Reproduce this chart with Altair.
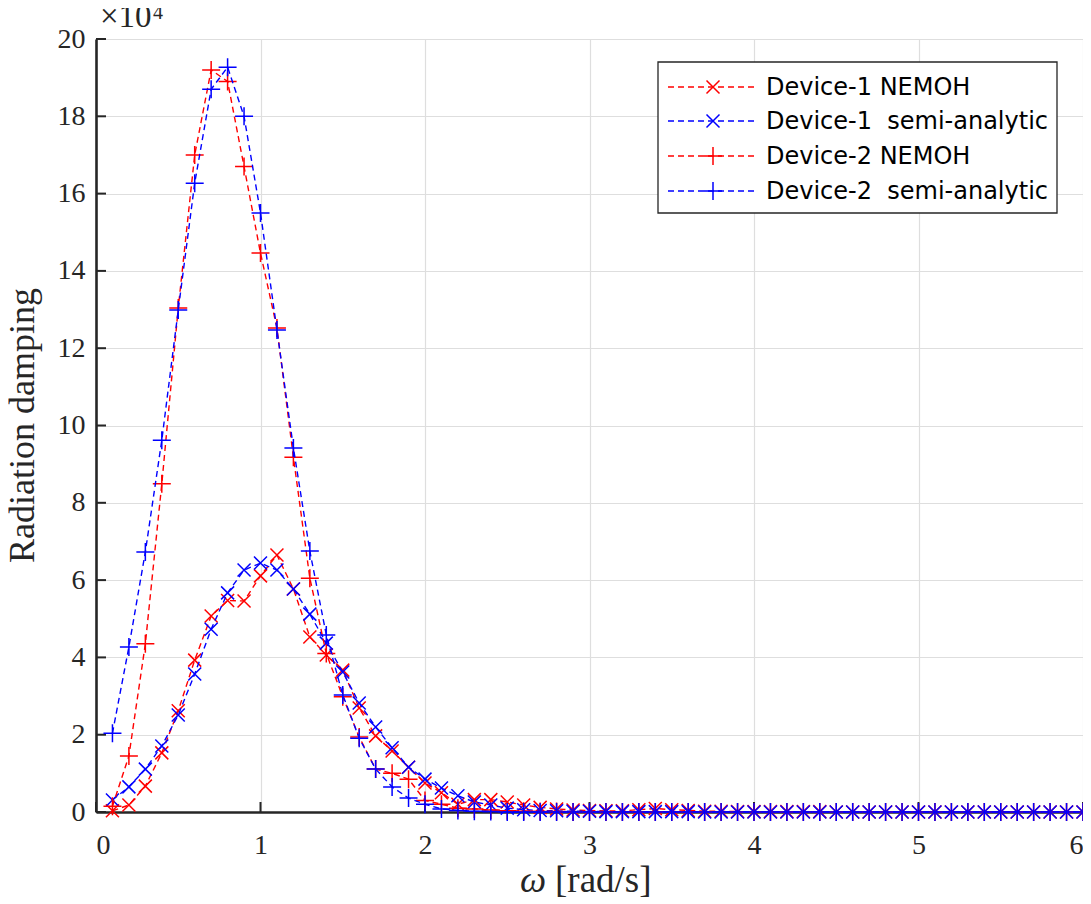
import altair as alt
import pandas as pd

# angular frequency grid [rad/s]
omega = [0.1, 0.2, 0.3, 0.4, 0.5, 0.6, 0.7, 0.8, 0.9, 1.0,
         1.1, 1.2, 1.3, 1.4, 1.5, 1.6, 1.7, 1.8, 1.9, 2.0,
         2.1, 2.2, 2.3, 2.4, 2.5, 2.6, 2.7, 2.8, 2.9, 3.0,
         3.1, 3.2, 3.3, 3.4, 3.5, 3.6, 3.7, 3.8, 3.9, 4.0,
         4.1, 4.2, 4.3, 4.4, 4.5, 4.6, 4.7, 4.8, 4.9, 5.0,
         5.1, 5.2, 5.3, 5.4, 5.5, 5.6, 5.7, 5.8, 5.9, 6.0]

# radiation damping, in units of 1e4
d1_nemoh = [0.03, 0.18, 0.67, 1.53, 2.62, 3.93, 5.07, 5.47, 5.46, 6.11,
            6.65, 5.77, 4.53, 4.06, 3.67, 2.69, 1.97, 1.58, 1.16, 0.75,
            0.50, 0.20, 0.32, 0.32, 0.26, 0.18, 0.12, 0.08, 0.05, 0.04,
            0.03, 0.03, 0.06, 0.09, 0.06, 0.04, 0.02, 0.02, 0.01, 0.01,
            0.01, 0.01, 0.01, 0.01, 0.00, 0.00, 0.00, 0.00, 0.00, 0.00,
            0.00, 0.00, 0.00, 0.00, 0.00, 0.00, 0.00, 0.00, 0.00, 0.00]
d1_semi = [0.31, 0.65, 1.11, 1.71, 2.51, 3.57, 4.73, 5.67, 6.26, 6.44,
           6.26, 5.77, 5.12, 4.37, 3.62, 2.82, 2.20, 1.66, 1.16, 0.85,
           0.62, 0.42, 0.26, 0.18, 0.10, 0.06, 0.04, 0.03, 0.02, 0.02,
           0.01, 0.01, 0.01, 0.01, 0.01, 0.01, 0.00, 0.00, 0.00, 0.00,
           0.00, 0.00, 0.00, 0.00, 0.00, 0.00, 0.00, 0.00, 0.00, 0.00,
           0.00, 0.00, 0.00, 0.00, 0.00, 0.00, 0.00, 0.00, 0.00, 0.00]
d2_nemoh = [0.15, 1.45, 4.35, 8.49, 13.04, 17.00, 19.20, 18.90, 16.70, 14.46,
            12.52, 9.18, 6.05, 4.10, 2.98, 1.94, 1.11, 1.00, 0.85, 0.30,
            0.20, 0.10, 0.08, 0.05, 0.03, 0.02, 0.01, 0.01, 0.00, 0.00,
            0.00, 0.00, 0.00, 0.00, 0.00, 0.00, 0.00, 0.00, 0.00, 0.00,
            0.00, 0.00, 0.00, 0.00, 0.00, 0.00, 0.00, 0.00, 0.00, 0.00,
            0.00, 0.00, 0.00, 0.00, 0.00, 0.00, 0.00, 0.00, 0.00, 0.00]
d2_semi = [2.04, 4.27, 6.73, 9.62, 12.99, 16.27, 18.70, 19.27, 18.00, 15.50,
           12.47, 9.42, 6.75, 4.58, 3.03, 1.91, 1.11, 0.65, 0.36, 0.20,
           0.08, 0.04, 0.02, 0.01, 0.00, 0.00, 0.00, 0.00, 0.00, 0.00,
           0.00, 0.00, 0.00, 0.00, 0.00, 0.00, 0.00, 0.00, 0.00, 0.00,
           0.00, 0.00, 0.00, 0.00, 0.00, 0.00, 0.00, 0.00, 0.00, 0.00,
           0.00, 0.00, 0.00, 0.00, 0.00, 0.00, 0.00, 0.00, 0.00, 0.00]

series_labels = ["Device-1 NEMOH", "Device-1\u00a0 semi-analytic",
                 "Device-2 NEMOH", "Device-2\u00a0 semi-analytic"]
series_values = [d1_nemoh, d1_semi, d2_nemoh, d2_semi]

x_ticks = [0, 1, 2, 3, 4, 5, 6]
y_ticks = [0, 2, 4, 6, 8, 10, 12, 14, 16, 18, 20]

# styles
X_PATH = "M-1,-1L1,1M-1,1L1,-1"
PLUS_PATH = "M-1,0L1,0M0,-1L0,1"
series_colors = ["#ff0000", "#0000ff", "#ff0000", "#0000ff"]
series_shapes = [X_PATH, X_PATH, PLUS_PATH, PLUS_PATH]
series_sizes = [169, 169, 324, 324]
DASH = [6, 4]
AX = "#262626"
SERIF = "Liberation Serif"
W, H = 987, 773

rows = []
for lab, vals in zip(series_labels, series_values):
    for w, v in zip(omega, vals):
        rows.append({"series": lab, "omega": w, "val": v})
df = pd.DataFrame(rows)

x_enc = alt.X("omega:Q",
              scale=alt.Scale(domain=[0, 6], nice=False, zero=False),
              axis=alt.Axis(values=x_ticks, title=None, format="d",
                            labelPadding=19))
y_enc = alt.Y("val:Q",
              scale=alt.Scale(domain=[0, 20], nice=False),
              axis=alt.Axis(values=y_ticks, title=None, format="d",
                            labelPadding=11))

layers = []

# inward tick marks
xt_df = pd.DataFrame({"omega": x_ticks})
yt_df = pd.DataFrame({"val": y_ticks})
layers.append(alt.Chart(yt_df).mark_rule(color=AX, strokeWidth=2).encode(
    y=y_enc, x=alt.value(0), x2=alt.value(10)))
layers.append(alt.Chart(xt_df).mark_rule(color=AX, strokeWidth=2).encode(
    x=x_enc, y=alt.value(H), y2=alt.value(H - 10)))

for lab, col, shp, sz in zip(series_labels, series_colors, series_shapes, series_sizes):
    base = alt.Chart(df).transform_filter(alt.datum.series == lab).encode(x=x_enc, y=y_enc)
    layers.append(base.mark_line(color=col, strokeDash=DASH, strokeWidth=1.4))
    layers.append(base.mark_point(shape=shp, size=sz, filled=False, color=col,
                                  strokeWidth=1.5, opacity=1))

one = pd.DataFrame({"t": [0]})

# legend box
layers.append(alt.Chart(one).mark_rect(fill="white", stroke=AX, strokeWidth=1.3).encode(
    x=alt.value(562), x2=alt.value(961), y=alt.value(23), y2=alt.value(174)))
row_y = [48, 82, 117, 152]
for lab, col, shp, sz, yy in zip(series_labels, series_colors, series_shapes, series_sizes, row_y):
    layers.append(alt.Chart(one).mark_rule(color=col, strokeDash=DASH, strokeWidth=1.4).encode(
        x=alt.value(572), x2=alt.value(662), y=alt.value(yy)))
    layers.append(alt.Chart(one).mark_point(shape=shp, size=sz, filled=False, color=col,
                                            strokeWidth=1.5, opacity=1).encode(
        x=alt.value(617), y=alt.value(yy)))
    layers.append(alt.Chart(one).mark_text(text=lab, font="DejaVu Sans", fontSize=24,
                                           align="left", baseline="middle", color="black").encode(
        x=alt.value(670), y=alt.value(yy + 1)))

# exponent label
layers.append(alt.Chart(one).mark_text(text="\u00d710", font=SERIF, fontSize=33,
                                       align="left", baseline="alphabetic", color=AX).encode(
    x=alt.value(4), y=alt.value(-12)))
layers.append(alt.Chart(one).mark_text(text="4", font=SERIF, fontSize=20,
                                       align="left", baseline="alphabetic", color=AX).encode(
    x=alt.value(57), y=alt.value(-20)))

# axis titles
layers.append(alt.Chart(one).mark_text(text="Radiation damping", font=SERIF, fontSize=36,
                                       angle=270, align="center", baseline="alphabetic",
                                       color=AX).encode(
    x=alt.value(-62), y=alt.value(H / 2)))
layers.append(alt.Chart(one).mark_text(text="\u03c9", font=SERIF, fontSize=37,
                                       fontStyle="italic", align="right", baseline="alphabetic",
                                       color=AX).encode(
    x=alt.value(450), y=alt.value(853)))
layers.append(alt.Chart(one).mark_text(text="[rad/s]", font=SERIF, fontSize=37,
                                       align="left", baseline="alphabetic", color=AX).encode(
    x=alt.value(459), y=alt.value(853)))

chart = alt.layer(*layers).properties(
    width=W, height=H,
    autosize=alt.AutoSizeParams(type="none"),
    padding={"left": 88, "top": 31, "right": 0, "bottom": 88},
).configure_view(stroke=None).configure_axis(
    grid=True, gridColor="#dedede", gridWidth=1.2,
    domainColor=AX, domainWidth=2.6,
    ticks=False,
    labelFont=SERIF, labelFontSize=28, labelColor=AX,
)

chart.save("out.html", embed_options={"renderer": "svg", "actions": False})
